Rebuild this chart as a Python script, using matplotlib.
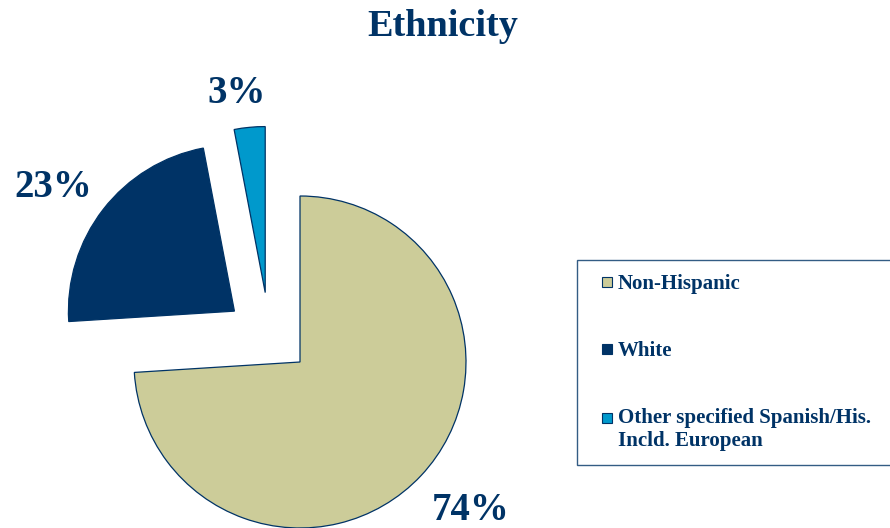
import matplotlib.pyplot as plt
import numpy as np
from matplotlib.patches import Patch, Rectangle
from matplotlib.legend_handler import HandlerBase

# data
labels = ["Non-Hispanic", "White", "Other specified Spanish/His.\nIncld. European"]
shares = [74, 23, 3]
pct_text = ["74%", "23%", "3%"]
colors = ["#CCCC99", "#003366", "#0099CC"]
explode = [0, 0.5, 0.42]
label_dist = [1.40, 1.29, 1.155]
label_turn = [0.5, 5.6, 3.3]   # degrees off the wedge middle

NAVY = "#003366"
SERIF = ["Liberation Serif", "DejaVu Serif"]


class SquareHandler(HandlerBase):
    # small square at the right end of the handle box, optionally lifted
    def __init__(self, lift=0.0, size=0.5):
        super().__init__()
        self.lift = lift
        self.size = size

    def create_artists(self, legend, orig_handle, xdescent, ydescent,
                       width, height, fontsize, trans):
        s = self.size * fontsize
        x0 = -xdescent + width - s
        y0 = -ydescent + (height - s) / 2 + self.lift * fontsize
        r = Rectangle((x0, y0), s, s, facecolor=orig_handle.get_facecolor(),
                      edgecolor=NAVY, linewidth=0.8, transform=trans)
        return [r]


fig = plt.figure(figsize=(8.9, 5.28), dpi=100)
ax = fig.add_axes([0, 0, 1, 1])

wedges, _ = ax.pie(shares, colors=colors, startangle=90, counterclock=False,
                   explode=explode, radius=1,
                   wedgeprops=dict(edgecolor=NAVY, linewidth=0.9))
# the small slice sits a bit more to the left than a plain radial explode
wedges[2].set_center(np.array(wedges[2].center) + np.array([-0.17, 0.0]))

# pixel layout: pie centre at (300, 362), radius 166 px
r_px, cx, cy = 166.0, 300.0, 362.0
ax.set_xlim(-cx / r_px, (890 - cx) / r_px)
ax.set_ylim(-(528 - cy) / r_px, cy / r_px)
ax.set_aspect("auto")
ax.axis("off")

for w, txt, d, turn in zip(wedges, pct_text, label_dist, label_turn):
    th = np.deg2rad((w.theta1 + w.theta2) / 2 + turn)
    x = w.center[0] + d * w.r * np.cos(th)
    y = w.center[1] + d * w.r * np.sin(th)
    ax.text(x, y, txt, ha="center", va="baseline", fontsize=28,
            fontweight="bold", color=NAVY, family=SERIF)

fig.text(0.4975, 1 - 36 / 528, "Ethnicity", ha="center", va="baseline",
         fontsize=27.5, fontweight="bold", color=NAVY, family=SERIF)

handles = [Patch(facecolor=c, edgecolor=NAVY) for c in colors]
hmap = {handles[0]: SquareHandler(), handles[1]: SquareHandler(),
        handles[2]: SquareHandler(lift=0.55)}
leg = ax.legend(handles, labels, loc="upper left", handler_map=hmap,
                bbox_to_anchor=(577 / 890, 1 - 260 / 528, 0.37, 0.0),
                bbox_transform=fig.transFigure, mode="expand",
                prop=dict(family=SERIF, weight="bold", size=15),
                labelcolor=NAVY, frameon=True, fancybox=False,
                edgecolor=NAVY, borderaxespad=0, borderpad=0.68,
                labelspacing=2.25, handlelength=1.0, handleheight=0.7,
                handletextpad=0.29)
leg.get_frame().set_linewidth(1.0)

fig.savefig("out.png", dpi=100)
